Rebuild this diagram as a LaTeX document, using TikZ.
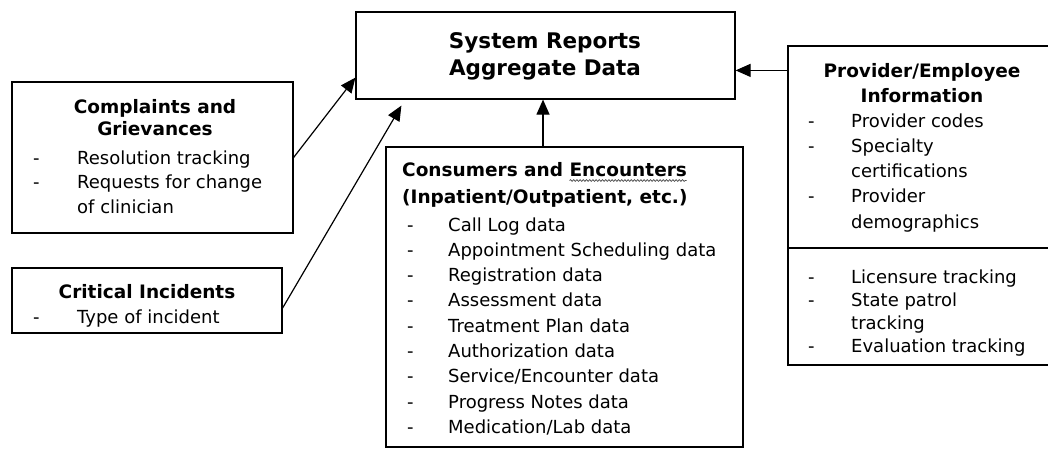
\documentclass[tikz,border=0pt]{standalone}
\usepackage{fontspec}
\setmainfont{DejaVu Sans}
\usetikzlibrary{arrows.meta,decorations.pathmorphing,calc}
\begin{document}
\begin{tikzpicture}[x=1pt,y=-1pt,
  box/.style={draw, line width=1.2pt, inner sep=0pt, fill=white},
  arr/.style={line width=1.2pt, -{Triangle[length=15pt,width=13pt]}},
  ttl/.style={font=\bfseries\fontsize{21.5}{27}\selectfont, inner sep=0pt, anchor=base},
  hd/.style={font=\bfseries\fontsize{18.5}{#1}\selectfont, inner sep=0pt},
  hd/.default=22,
  lst/.style={font=\fontsize{18}{#1}\selectfont, inner sep=0pt, anchor=base west},
  squiggle/.style={draw=black!70, line width=0.7pt, decorate, decoration={snake, amplitude=0.9pt, segment length=3.2pt}}
]
\useasboundingbox (0,0) rectangle (1048,450);
\clip (0,0) rectangle (1048,450);

% boxes
\node[box, minimum width=379pt, minimum height=87pt] (top) at (545.5,55.5) {};
\node[box, minimum width=281pt, minimum height=151pt] (comp) at (152.5,157.5) {};
\node[box, minimum width=270pt, minimum height=65pt] (crit) at (147,300.5) {};
\node[box, minimum width=357pt, minimum height=300pt] (cons) at (564.5,297) {};
\node[box, minimum width=280pt, minimum height=319pt] (prov) at (928,205.5) {};
\coordinate (dv) at (0,248);
\draw[line width=1.2pt] (prov.west |- dv) -- (prov.east |- dv);

% top box text
\node[ttl] (ttxt) at (545,48) {\begin{tabular}[t]{@{}c@{}}System Reports\\Aggregate Data\end{tabular}};

% complaints
\node[hd, anchor=base] (comph) at (155,113) {\begin{tabular}[t]{@{}c@{}}Complaints and\\Grievances\end{tabular}};
\node[lst=24.5] (compl) at (33,164) {\begin{tabular}[t]{@{}p{44pt}@{}l@{}}-&Resolution tracking\\-&Requests for change\\&of clinician\end{tabular}};

% critical incidents
\node[hd, anchor=base] (crith) at (147,298) {Critical Incidents};
\node[lst=25] (critl) at (33,323) {\begin{tabular}[t]{@{}p{44pt}@{}l@{}}-&Type of incident\end{tabular}};

% consumers
\node[hd=27, anchor=base west] (consh) at (402,176) {\begin{tabular}[t]{@{}l@{}}Consumers and Encounters\\(Inpatient/Outpatient, etc.)\end{tabular}};
\coordinate (sq1) at ($(consh.base west)+(167.5pt,-4.5pt)$);
\coordinate (sq2) at ($(consh.base west)+(284.5pt,-4.5pt)$);
\draw[squiggle] (sq1) -- (sq2);
\node[lst=25.3] (consl) at (407,231) {\begin{tabular}[t]{@{}p{41pt}@{}l@{}}
-&Call Log data\\
-&Appointment Scheduling data\\
-&Registration data\\
-&Assessment data\\
-&Treatment Plan data\\
-&Authorization data\\
-&Service/Encounter data\\
-&Progress Notes data\\
-&Medication/Lab data\end{tabular}};

% provider
\node[hd=25, anchor=base] (provh) at (922,77) {\begin{tabular}[t]{@{}c@{}}Provider/Employee\\Information\end{tabular}};
\node[lst=25.3] (provl1) at (808,127) {\begin{tabular}[t]{@{}p{43pt}@{}l@{}}
-&Provider codes\\
-&Specialty\\
&certifications\\
-&Provider\\
&demographics\end{tabular}};
\node[lst=23.3] (provl2) at (808,283) {\begin{tabular}[t]{@{}p{43pt}@{}l@{}}
-&Licensure tracking\\
-&State patrol\\
&tracking\\
-&Evaluation tracking\end{tabular}};

% connectors
\draw[arr] (comp.east) -- ([yshift=22pt]top.south west);
\draw[arr] ([yshift=-7.5pt]crit.east) -- ([xshift=46pt,yshift=-6pt]top.south west);
\coordinate (cu) at ([xshift=-21.5pt]cons.north);
\draw[arr] (cu) -- (cu |- top.south);
\coordinate (pa) at ([yshift=-25pt]prov.north west);
\draw[arr] (pa) -- (pa -| top.east);
\end{tikzpicture}
\end{document}
